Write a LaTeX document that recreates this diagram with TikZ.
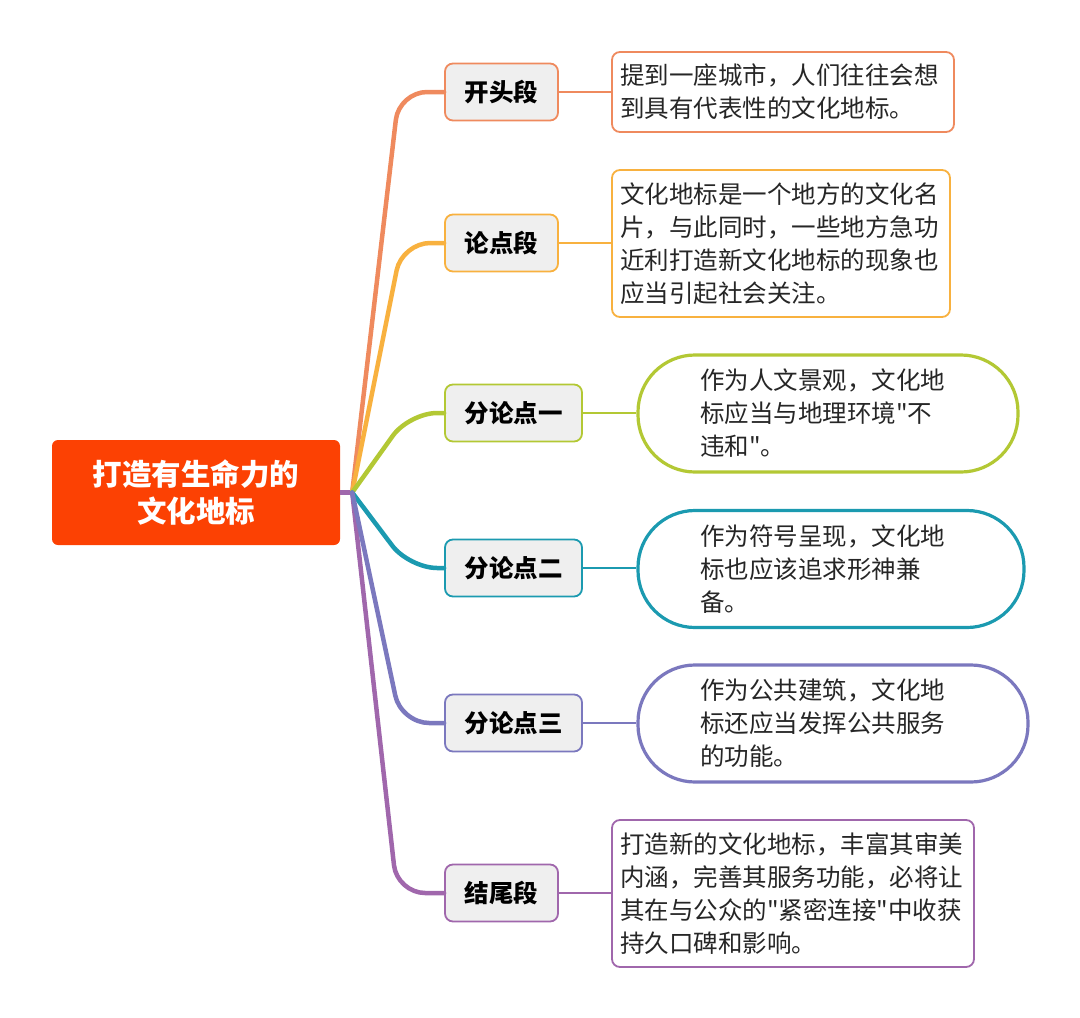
\documentclass[tikz,border=0pt]{standalone}
\usepackage{fontspec}
\newfontfamily\cjk{Noto Sans CJK SC}
\usetikzlibrary{positioning}
\definecolor{cRoot}{HTML}{FC4103}
\definecolor{cOpen}{HTML}{EF8A5E}
\definecolor{cThesis}{HTML}{F8B13F}
\definecolor{cArgA}{HTML}{B3C834}
\definecolor{cArgB}{HTML}{1B9AB0}
\definecolor{cArgC}{HTML}{7B78BE}
\definecolor{cClose}{HTML}{A067AC}
\definecolor{cBox}{HTML}{EFEFEF}
\tikzset{
  root/.style={fill=cRoot, rounded corners=6pt, text=white, align=center,
    minimum width=288pt, minimum height=105pt,
    font=\cjk\fontsize{29.5}{37}\selectfont\bfseries},
  branch/.style={draw=#1, fill=cBox, line width=1.8pt, rounded corners=8pt,
    minimum height=57pt, font=\cjk\fontsize{24.5}{28}\selectfont\bfseries},
  note/.style={draw=#1, fill=white, line width=1.8pt, rounded corners=8pt,
    inner xsep=8pt, align=left, text=black!85,
    font=\cjk\fontsize{24.5}{33}\selectfont},
  pill/.style={draw=#1, fill=white, line width=3.2pt, rounded corners=57pt,
    inner xsep=62pt, minimum height=117pt, align=left, text=black!85,
    font=\cjk\fontsize{24.5}{33}\selectfont},
  limb/.style={draw=#1, line width=4.5pt, rounded corners=28pt, line cap=round},
  twig/.style={draw=#1, line width=2.4pt}
}
\begin{document}
\begin{tikzpicture}[x=1pt, y=-1pt, line join=round]
  \useasboundingbox (0,0) rectangle (1080,1018);

  % Central topic
  \node[root] (root) at (196,492.5) {打造有生命力的\\文化地标};
  \coordinate (hub) at ([xshift=12pt]root.east);

  % Main branches
  \node[branch=cOpen,   minimum width=113pt] (open)   at (501.5,92)  {开头段};
  \node[branch=cThesis, minimum width=113pt] (thesis) at (501.5,243) {论点段};
  \node[branch=cArgA,   minimum width=137pt] (argA)   at (513.5,413) {分论点一};
  \node[branch=cArgB,   minimum width=137pt] (argB)   at (513.5,568) {分论点二};
  \node[branch=cArgC,   minimum width=137pt] (argC)   at (513.5,723) {分论点三};
  \node[branch=cClose,  minimum width=113pt] (close)  at (501.5,893) {结尾段};

  % Details
  \node[note=cOpen, text width=326pt, minimum height=80pt] (openTxt) at (783,92)
    {提到一座城市，人们往往会想\\到具有代表性的文化地标。};
  \node[note=cThesis, text width=322pt, minimum height=147pt] (thesisTxt) at (781,243.5)
    {文化地标是一个地方的文化名\\片，与此同时，一些地方急功\\近利打造新文化地标的现象也\\应当引起社会关注。};
  \node[pill=cArgA, text width=256pt] (argATxt) at (828,413.5)
    {作为人文景观，文化地\\标应当与地理环境"不\\违和"。};
  \node[pill=cArgB, text width=262pt] (argBTxt) at (831,569)
    {作为符号呈现，文化地\\标也应该追求形神兼\\备。};
  \node[pill=cArgC, text width=266pt] (argCTxt) at (833,723.5)
    {作为公共建筑，文化地\\标还应当发挥公共服务\\的功能。};
  \node[note=cClose, text width=346pt, minimum height=147pt] (closeTxt) at (793,893.5)
    {打造新的文化地标，丰富其审美\\内涵，完善其服务功能，必将让\\其在与公众的"紧密连接"中收获\\持久口碑和影响。};

  % Connectors
  \draw[limb=cClose, line cap=butt] (root.east) -- (hub);
  \foreach \b/\c/\s in {close/cClose/47, open/cOpen/45, thesis/cThesis/42,
                        argA/cArgA/35, argB/cArgB/35, argC/cArgC/43}
    \draw[limb=\c] (hub) -- ([xshift=-\s pt]\b.west) -- (\b.west);
  \foreach \b/\c in {open/cOpen, thesis/cThesis, argA/cArgA,
                     argB/cArgB, argC/cArgC, close/cClose}
    \draw[twig=\c] (\b.east) -- (\b.east -| \b Txt.west);
\end{tikzpicture}
\end{document}
